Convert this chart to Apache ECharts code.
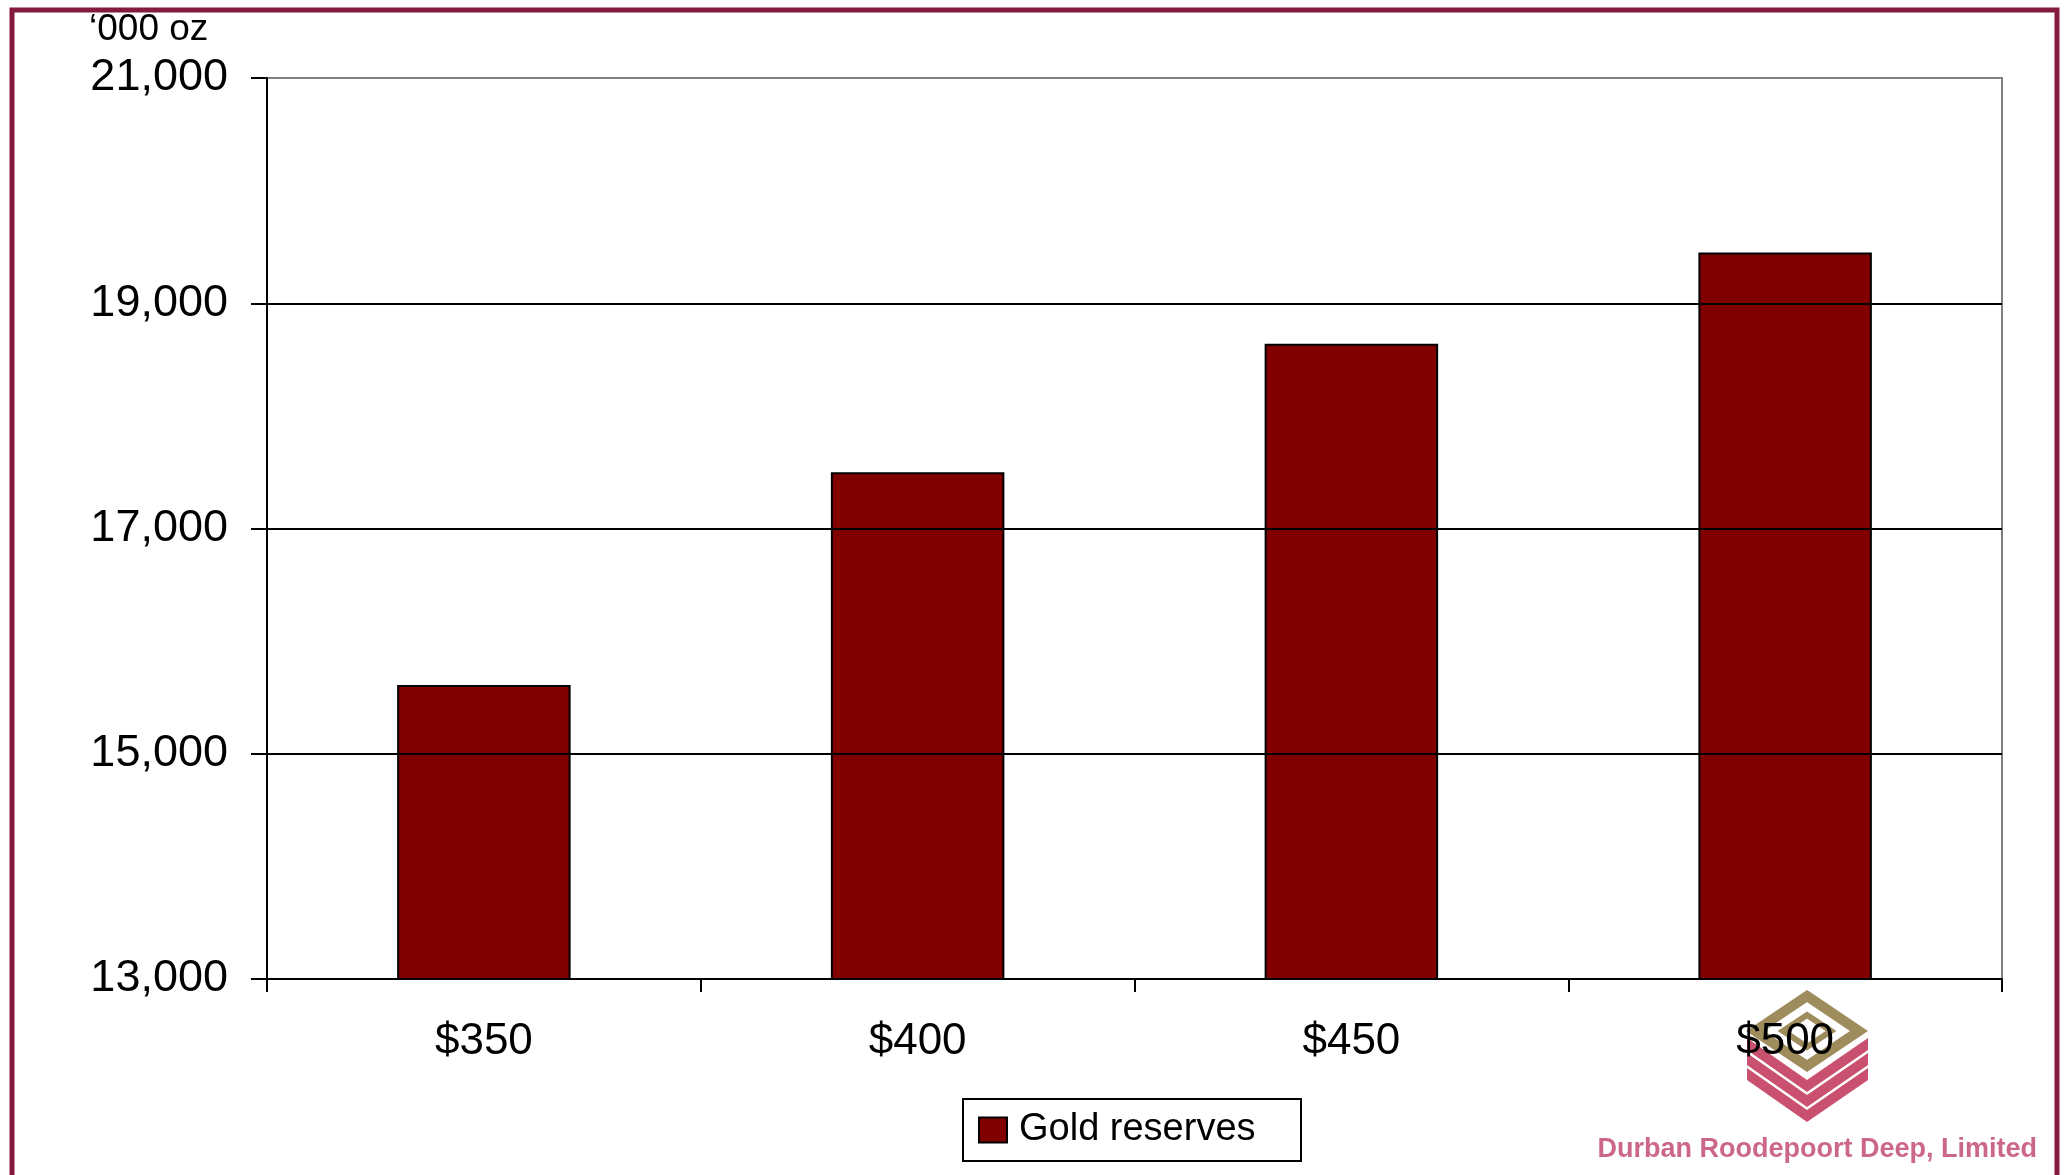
<!DOCTYPE html>
<html>
<head>
<meta charset="utf-8">
<script src="https://cdn.jsdelivr.net/npm/echarts@6/dist/echarts.min.js"></script>
<style>
html,body{margin:0;padding:0;background:#fff;}
#chart{width:2067px;height:1175px;}
</style>
</head>
<body>
<div id="chart"></div>
<script>
const categories = ['$350', '$400', '$450', '$500'];
const goldReserves = [15610, 17500, 18640, 19450];
const yTicks = [13000, 15000, 17000, 19000, 21000];
const seriesName = 'Gold reserves';
const unitLabel = '\u2018000 oz';
const companyName = 'Durban Roodepoort Deep, Limited';

const FONT = '"Liberation Sans", Arial, Helvetica, sans-serif';
const chart = echarts.init(document.getElementById('chart'));

const gold = '#9a8654';
const red = '#c43d60';
const bandShapes = [0, 1, 2].map(i => ({
  type: 'polygon', silent: true,
  shape: { points: [[1747, 1038 + 15 * i], [1807, 1080 + 15 * i], [1868, 1038 + 15 * i], [1868, 1050 + 15 * i], [1807, 1092 + 15 * i], [1747, 1050 + 15 * i]] },
  style: { fill: red, opacity: 0.9 }
}));

chart.setOption({
  backgroundColor: '#ffffff',
  animation: false,
  textStyle: { fontFamily: FONT },
  title: {
    text: unitLabel, left: 89, top: 11, padding: 0,
    textStyle: { fontFamily: FONT, fontSize: 37, fontWeight: 'normal', color: '#000' }
  },
  grid: {
    left: 267, right: 65, top: 78, bottom: 196,
    show: true, borderColor: '#808080', borderWidth: 2, backgroundColor: 'transparent'
  },
  legend: {
    data: [seriesName], left: 963, top: 1099, orient: 'horizontal',
    icon: 'rect', itemWidth: 28, itemHeight: 25,
    padding: [11, 24, 11, 15],
    backgroundColor: '#fff', borderColor: '#000', borderWidth: 2, borderRadius: 0,
    itemStyle: { color: '#800000', borderColor: '#000', borderWidth: 2 },
    textStyle: { fontFamily: FONT, fontSize: 38, color: '#000', lineHeight: 40, width: 258, padding: [0, 0, 0, 7] }
  },
  xAxis: {
    type: 'category', data: categories, z: 20, zlevel: 1,
    boundaryGap: true,
    axisLine: { lineStyle: { color: '#000', width: 2 } },
    axisTick: { show: true, length: 13, lineStyle: { color: '#000', width: 2 } },
    axisLabel: { fontFamily: FONT, fontSize: 44, color: '#000', margin: 41 },
    splitLine: { show: false }
  },
  yAxis: {
    type: 'value', min: 13000, max: 21000, interval: 1000, z: 20,
    axisLine: { show: true, lineStyle: { color: '#000', width: 2 } },
    axisTick: { show: true, length: 16, customValues: yTicks, lineStyle: { color: '#000', width: 2 } },
    axisLabel: {
      fontFamily: FONT, fontSize: 45, color: '#000', margin: 39,
      customValues: yTicks,
      formatter: v => Number(v).toLocaleString('en-US')
    },
    splitLine: { show: true, showMinLine: false, showMaxLine: false, lineStyle: { color: '#000', width: 2 } }
  },
  series: [{
    name: seriesName, type: 'bar', data: goldReserves, barWidth: '40%',
    itemStyle: { color: '#800000', borderColor: '#000', borderWidth: 2 }
  }],
  graphic: [
    {
      type: 'rect', silent: true,
      shape: { x: 12, y: 10, width: 2045, height: 1300 },
      style: { fill: 'none', stroke: '#861a3e', lineWidth: 5 }
    },
    ...bandShapes,
    {
      type: 'polygon', silent: true,
      shape: { points: [[1807, 996], [1859, 1031], [1807, 1066], [1755, 1031]] },
      style: { fill: 'none', stroke: gold, lineWidth: 10, lineJoin: 'miter', opacity: 0.95 }
    },
    {
      type: 'polygon', silent: true,
      shape: { points: [[1807, 1015], [1831, 1031], [1807, 1047], [1783, 1031]] },
      style: { fill: 'none', stroke: gold, lineWidth: 6, lineJoin: 'miter', opacity: 0.95 }
    },
    {
      type: 'text', silent: true,
      style: {
        text: companyName, x: 2037, y: 1150, align: 'right', verticalAlign: 'middle',
        fontFamily: FONT, fontSize: 27, fontWeight: 'bold', fill: '#c6577a', opacity: 0.9
      }
    }
  ]
});
</script>
</body>
</html>
